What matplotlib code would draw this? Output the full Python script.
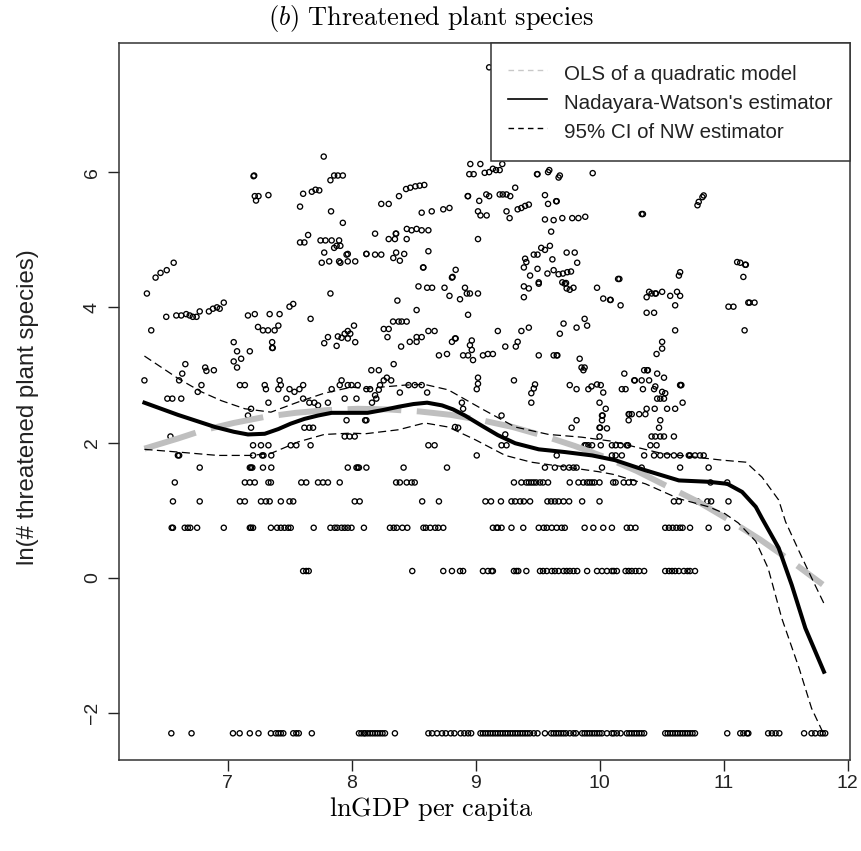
import matplotlib
matplotlib.use("Agg")
import matplotlib.pyplot as plt
from matplotlib.lines import Line2D
import numpy as np

plt.rcParams["font.family"] = ["Liberation Sans", "DejaVu Sans"]
plt.rcParams["mathtext.fontset"] = "cm"

# --- data ----------------------------------------------------------------
# horizontal bands of countries (y = ln(count + 0.1)), x = lnGDP per capita
band_y = [-2.30, 0.10, 0.74, 1.13, 1.41, 1.63, 1.81, 1.96, 2.09]
band_x = [
    [6.547, 6.71, 7.044, 7.098, 7.18, 7.25, 7.35, 7.39, 7.41, 7.43, 7.45, 7.53, 7.555, 7.575, 7.68,
     8.06, 8.08, 8.10, 8.11, 8.13, 8.15, 8.17, 8.19, 8.21, 8.23, 8.25, 8.27, 8.35,
     8.62, 8.65, 8.69, 8.73, 8.76, 8.80, 8.83, 8.88, 8.91, 8.94, 8.965,
     9.04, 9.06, 9.08, 9.10, 9.12, 9.14, 9.16, 9.18, 9.20, 9.22, 9.24, 9.26, 9.28, 9.30, 9.32,
     9.34, 9.36, 9.38, 9.40, 9.42, 9.44, 9.47, 9.50, 9.56, 9.61, 9.63, 9.65, 9.67, 9.69, 9.71,
     9.73, 9.76, 9.79, 9.81, 9.86, 9.88, 9.90, 9.92, 9.94, 9.96, 9.98, 10.00, 10.02, 10.06, 10.10,
     10.115, 10.14, 10.17, 10.22, 10.24, 10.26, 10.28, 10.30, 10.32, 10.34, 10.36,
     10.53, 10.55, 10.57, 10.59, 10.61, 10.63, 10.65, 10.67, 10.69, 10.71, 10.73, 10.75, 10.77,
     11.03, 11.135, 11.16, 11.19, 11.20, 11.36, 11.39, 11.42, 11.45, 11.65, 11.71, 11.74, 11.78,
     11.80, 11.82],
    [7.61, 7.635, 7.655, 8.49, 8.74, 8.81, 8.875, 8.90, 9.06, 9.10, 9.13, 9.14, 9.31, 9.33, 9.345,
     9.41, 9.52, 9.545, 9.575, 9.615, 9.64, 9.67, 9.71, 9.735, 9.76, 9.79, 9.82, 9.90, 9.98,
     10.02, 10.06, 10.10, 10.115, 10.14, 10.21, 10.235, 10.26, 10.29, 10.32, 10.36, 10.53, 10.56,
     10.585, 10.61, 10.64, 10.68, 10.71, 10.73, 10.77],
    [6.55, 6.56, 6.655, 6.68, 6.70, 6.755, 6.97, 7.18, 7.19, 7.206, 7.35, 7.40, 7.43, 7.46, 7.49,
     7.51, 7.695, 7.83, 7.865, 7.885, 7.92, 7.945, 7.97, 8.00, 8.10, 8.31, 8.34, 8.365, 8.41,
     8.45, 8.58, 8.60, 8.635, 8.675, 8.70, 8.74, 9.14, 9.17, 9.18, 9.21, 9.29, 9.385, 9.51,
     9.55, 9.575, 9.615, 9.655, 9.695, 9.72, 9.88, 9.95, 10.03, 10.10, 10.22, 10.25, 10.29,
     10.53, 10.56, 10.59, 10.62, 10.65, 10.67, 10.73, 10.88, 11.03],
    [6.56, 6.776, 7.10, 7.14, 7.27, 7.31, 7.34, 7.43, 7.50, 7.53, 8.026, 8.066, 8.57, 8.705,
     9.08, 9.125, 9.205, 9.29, 9.32, 9.36, 9.39, 9.44, 9.58, 9.61, 9.64, 9.67, 9.71, 9.755,
     9.86, 10.00, 10.60, 10.64, 10.79, 10.87, 10.90, 11.04],
    [6.575, 7.14, 7.18, 7.22, 7.33, 7.35, 7.595, 7.635, 7.73, 7.77, 7.81, 7.905, 8.36, 8.39,
     8.445, 8.485, 8.51, 9.31, 9.37, 9.41, 9.43, 9.45, 9.47, 9.49, 9.52, 9.545, 9.585, 9.76,
     9.83, 9.87, 9.90, 9.92, 9.94, 9.96, 10.00, 10.11, 10.13, 10.195, 10.235, 10.275, 10.895,
     11.03],
    [6.776, 7.18, 7.19, 7.20, 7.286, 7.353, 7.97, 8.04, 8.05, 8.06, 8.12, 8.42, 8.77, 9.56, 9.64,
     9.71, 9.755, 9.79, 9.815, 10.02, 10.34, 10.65, 10.88],
    [6.60, 6.61, 7.206, 7.28, 7.29, 7.353, 9.01, 9.655, 10.10, 10.13, 10.18, 10.36, 10.44,
     10.49, 10.545, 10.60, 10.65, 10.72, 10.73, 10.77, 10.81, 10.84],
    [7.206, 7.27, 7.33, 7.51, 7.555, 7.67, 8.62, 8.67, 9.21, 9.25, 9.88, 9.89, 9.91, 9.94,
     10.01, 10.10, 10.13, 10.17, 10.22, 10.23, 10.41, 10.46],
    [6.54, 7.945, 7.985, 8.026, 10.00, 10.42, 10.45, 10.49, 10.52, 10.60],
]

# remaining countries
other_x = [
    7.776, 7.21, 7.215, 7.22, 7.25, 7.23, 7.33, 7.585, 7.61, 7.68, 7.71, 7.74, 7.83, 7.86, 7.89,
    7.93, 7.835, 7.93, 7.65, 7.585, 7.62, 7.75, 7.79, 7.84, 7.90, 7.86, 7.88, 7.91, 7.78, 7.96,
    7.97, 7.76, 7.82, 7.90, 7.91, 7.97, 8.03, 8.12, 6.566, 6.51, 6.46, 6.42,
    8.958, 9.039, 8.95, 8.985, 9.074, 9.11, 9.14, 9.165, 9.195, 9.216, 9.496, 9.50, 9.585, 9.595,
    9.67, 9.68, 9.945, 8.587, 8.55, 8.515, 8.474, 8.44, 8.383, 8.24, 8.30, 8.937, 8.94, 9.03,
    9.087, 9.11, 9.195, 9.22, 9.25, 9.28, 9.32, 9.56, 9.585, 9.65, 9.655, 9.34, 9.37, 9.40, 9.43,
    9.02, 9.04, 9.09, 9.25, 9.275, 9.56, 9.63, 9.70, 9.78, 9.83, 9.885, 9.61, 8.566, 8.647, 8.74,
    8.79, 8.19, 8.357, 8.36, 8.446, 8.485, 8.525, 8.566, 8.62, 8.30, 8.35, 8.445, 9.02, 8.12, 8.19,
    8.24, 8.36, 8.425, 8.337, 8.39, 8.62, 8.577, 8.58, 8.84, 8.81, 8.815, 9.40, 9.41, 9.39, 9.44,
    9.47, 9.50, 9.50, 9.53, 9.56, 9.60, 9.62, 9.58, 9.63, 9.67, 9.705, 9.74, 9.77, 9.735, 9.80,
    9.82, 9.51, 9.70, 9.73, 9.11,
    10.34, 10.35, 10.79, 10.80, 10.83, 10.84, 11.11, 11.135, 11.175, 11.18, 11.16, 10.65, 10.64,
    10.15, 10.16,
    6.35, 7.83, 6.506, 6.587, 6.627, 6.667, 6.695, 6.72, 6.75, 6.776, 6.85, 6.883, 6.915, 6.937,
    6.97, 6.385, 7.165, 7.22, 7.34, 7.42, 7.50, 7.53, 7.67, 7.246, 7.286, 7.327, 7.38, 7.41, 7.36,
    7.36, 7.365, 7.05, 7.077, 7.11, 7.05, 7.077, 7.18, 7.81, 7.78, 7.88, 7.89, 7.92, 7.945, 7.97,
    7.99, 8.02, 8.03, 7.97, 6.33, 6.61, 6.635, 6.66, 6.76, 6.82, 6.83, 6.89, 6.79, 6.515, 6.555,
    6.627, 7.10, 7.14, 7.30, 7.31, 7.41, 7.42, 7.43, 7.50, 7.54, 7.58, 7.61, 7.475, 7.61, 7.66,
    7.33, 7.70, 7.73, 7.81, 7.84, 7.92, 7.905, 7.97, 8.00, 8.05, 8.12, 7.945, 8.04, 7.19, 7.165,
    7.96, 8.11, 7.19, 7.62, 7.66, 7.69,
    8.54, 8.61, 8.65, 8.75, 8.915, 8.93, 8.955, 9.02, 8.79, 8.875, 8.37, 8.525, 9.39, 9.43, 9.39,
    9.51, 9.72, 9.735, 9.76, 9.79, 9.98, 10.03, 10.085, 10.09, 8.335, 8.38, 8.405, 8.445, 8.26,
    8.30, 8.29, 8.62, 8.67, 8.40, 8.47, 8.525, 8.525, 8.566, 8.34, 8.16, 8.22, 8.705, 8.77, 8.835,
    8.84, 8.81, 8.94, 8.97, 8.955, 8.97, 8.94, 8.90, 8.98, 9.06, 9.10, 9.14, 9.18, 9.24, 9.325,
    9.34, 9.37, 9.43, 9.51, 9.63, 9.655, 9.66, 9.68, 9.71, 9.815, 9.88, 9.90, 9.84, 9.855, 9.88,
    9.87, 9.02, 9.02, 9.01, 9.31, 9.48, 9.47, 9.45, 9.45, 9.76, 9.815, 9.91, 9.935, 9.98, 10.01,
    10.03, 10.00, 10.02, 10.025, 10.05, 10.00, 10.005, 10.02, 10.06, 9.815, 9.775, 8.15, 8.19,
    8.22, 8.23, 8.26, 8.285, 8.32, 8.20, 8.165, 8.39, 8.46, 8.51, 8.566, 8.61, 8.12, 8.89, 8.90,
    8.835, 8.86, 9.21, 9.24,
    10.40, 10.42, 10.45, 10.455, 10.505, 10.57, 10.625, 10.65, 10.38, 10.17, 10.38, 10.44, 10.61,
    11.04, 11.08, 11.20, 11.21, 11.25, 10.61, 11.17, 10.505, 10.505, 10.46, 10.20, 10.36, 10.385,
    10.39, 10.465, 10.52, 10.28, 10.285, 10.34, 10.40, 10.45, 10.44, 10.21, 10.18, 10.35, 10.505,
    10.53, 10.49, 10.465, 10.52, 10.65, 10.655, 10.66, 10.67, 10.38, 10.445, 10.545, 10.61,
    10.235, 10.24, 10.26, 10.32, 10.37, 10.235, 10.49, 10.48,
]
other_y = [
    6.23, 5.94, 5.95, 5.645, 5.645, 5.58, 5.66, 5.49, 5.68, 5.71, 5.74, 5.73, 5.88, 5.95, 5.95,
    5.95, 5.42, 5.25, 5.07, 4.96, 4.96, 4.99, 4.99, 4.99, 4.99, 4.88, 4.91, 4.91, 4.81, 4.78,
    4.79, 4.66, 4.68, 4.68, 4.66, 4.68, 4.68, 4.79, 4.66, 4.55, 4.51, 4.44,
    6.12, 6.12, 5.97, 5.97, 5.99, 6.00, 6.05, 6.03, 6.03, 6.12, 5.97, 5.97, 6.00, 6.03,
    5.92, 5.95, 5.985, 5.81, 5.80, 5.79, 5.77, 5.75, 5.645, 5.53, 5.53, 5.645, 5.645, 5.575,
    5.67, 5.645, 5.67, 5.67, 5.67, 5.645, 5.77, 5.66, 5.53, 5.57, 5.57, 5.45, 5.47, 5.50, 5.52,
    5.42, 5.36, 5.36, 5.42, 5.32, 5.30, 5.29, 5.32, 5.32, 5.32, 5.34, 5.12, 5.40, 5.42, 5.45,
    5.47, 5.09, 5.09, 5.09, 5.16, 5.14, 5.16, 5.14, 5.14, 5.01, 5.01, 5.01, 5.01, 4.79, 4.78,
    4.78, 4.81, 4.79, 4.73, 4.69, 4.83, 4.59, 4.59, 4.555, 4.44, 4.45, 4.72, 4.67, 4.59, 4.47,
    4.78, 4.78, 4.57, 4.88, 4.85, 4.91, 4.71, 4.50, 4.55, 4.49, 4.50, 4.52, 4.53, 4.81, 4.81,
    4.66, 4.37, 4.37, 4.36, 7.55,
    5.38, 5.38, 5.51, 5.56, 5.63, 5.655, 4.67, 4.66, 4.63, 4.63, 4.45, 4.52, 4.47,
    4.42, 4.42,
    4.205, 4.205, 3.86, 3.88, 3.88, 3.90, 3.88, 3.86, 3.86, 3.94, 3.94, 3.98, 4.00, 3.98,
    4.07, 3.66, 3.88, 3.90, 3.90, 3.90, 4.01, 4.05, 3.83, 3.71, 3.66, 3.66, 3.66, 3.73, 3.485,
    3.40, 3.40, 3.485, 3.35, 3.24, 3.20, 3.11, 3.35, 3.56, 3.47, 3.43, 3.57, 3.55, 3.61, 3.65,
    3.61, 3.73, 3.485, 3.54, 2.92, 2.92, 3.02, 3.16, 2.75, 3.11, 3.06, 3.07, 2.85, 2.65, 2.65,
    2.65, 2.85, 2.85, 2.85, 2.79, 2.79, 2.92, 2.85, 2.79, 2.75, 2.79, 2.85, 2.65, 2.65, 2.59,
    2.59, 2.59, 2.55, 2.59, 2.79, 2.92, 2.85, 2.85, 2.85, 2.85, 2.79, 2.65, 2.65, 2.50, 2.40,
    2.33, 2.33, 2.22, 2.22, 2.22, 2.22,
    4.31, 4.29, 4.29, 4.29, 4.29, 4.205, 4.205, 4.205, 4.17, 4.12, 4.10, 3.96, 4.31, 4.28, 4.15,
    4.35, 4.35, 4.28, 4.26, 4.29, 4.29, 4.13, 4.11, 4.11, 3.79, 3.79, 3.79, 3.79, 3.68,
    3.68, 3.56, 3.65, 3.65, 3.42, 3.49, 3.49, 3.56, 3.56, 3.16, 3.07, 3.07, 3.29, 3.31, 3.54,
    3.54, 3.49, 3.89, 3.51, 3.44, 3.37, 3.29, 3.29, 3.22, 3.29, 3.31, 3.31, 3.65, 3.42, 3.42,
    3.49, 3.65, 3.70, 3.29, 3.29, 3.29, 3.29, 3.61, 3.76, 3.70, 3.83, 3.73, 3.24, 3.11, 3.11,
    3.07, 2.96, 2.87, 2.79, 2.92, 2.86, 2.80, 2.73, 2.59, 2.85, 2.79, 2.79, 2.83, 2.86, 2.85,
    2.74, 2.59, 2.40, 2.40, 2.50, 2.22, 2.22, 2.33, 2.21, 2.33, 2.22, 2.79, 2.70,
    2.78, 2.85, 2.92, 2.96, 2.92, 2.65, 2.59, 2.74, 2.85, 2.85, 2.85, 2.74, 2.33, 2.59, 2.50,
    2.23, 2.22, 2.40, 2.12,
    4.23, 4.205, 4.205, 4.205, 4.23, 4.17, 4.23, 4.17, 4.15, 4.03, 3.92, 3.92, 4.03,
    4.01, 4.01, 4.07, 4.07, 4.07, 3.66, 3.66, 3.49, 3.39, 3.31, 3.02, 3.07, 3.07,
    3.07, 3.02, 2.96, 2.92, 2.92, 2.92, 2.92, 2.83, 2.79, 2.79, 2.79, 2.79, 2.75,
    2.73, 2.65, 2.65, 2.65, 2.85, 2.85, 2.85, 2.59, 2.50, 2.50, 2.50, 2.50,
    2.42, 2.42, 2.42, 2.42, 2.42, 2.33, 2.33, 2.22,
]

# fitted curves
ols_x = [6.33, 6.6, 6.8, 7.05, 7.3, 7.55, 7.8, 8.05, 8.3, 8.55, 8.8, 9.05, 9.3, 9.55, 9.8,
         10.05, 10.3, 10.55, 10.8, 11.05, 11.3, 11.55, 11.8]
ols_y = [1.91, 2.06, 2.18, 2.29, 2.38, 2.44, 2.48, 2.50, 2.49, 2.46, 2.41, 2.33, 2.23, 2.10,
         1.95, 1.78, 1.58, 1.35, 1.12, 0.85, 0.56, 0.24, -0.10]

nw_x = [6.33, 6.60, 6.90, 7.05, 7.165, 7.30, 7.41, 7.51, 7.62, 7.73, 7.84, 8.00, 8.13, 8.25,
        8.38, 8.50, 8.61, 8.73, 8.82, 8.915, 9.05, 9.18, 9.32, 9.51, 9.72, 9.94, 10.125, 10.37,
        10.64, 10.88, 11.03, 11.15, 11.26, 11.31, 11.445, 11.55, 11.66, 11.81]
nw_y = [2.59, 2.41, 2.23, 2.16, 2.12, 2.13, 2.20, 2.28, 2.35, 2.40, 2.44, 2.44, 2.44, 2.48,
        2.53, 2.57, 2.59, 2.55, 2.49, 2.40, 2.25, 2.11, 1.99, 1.90, 1.86, 1.81, 1.74, 1.59,
        1.44, 1.42, 1.39, 1.27, 1.05, 0.88, 0.44, -0.105, -0.745, -1.39]

ci_hi_x = [6.33, 6.60, 6.79, 6.95, 7.14, 7.35, 7.57, 7.78, 8.00, 8.11, 8.43, 8.59, 8.78, 9.05,
           9.32, 9.59, 9.855, 10.10, 10.50, 10.99, 11.18, 11.31, 11.445, 11.50, 11.61, 11.71,
           11.81]
ci_hi_y = [3.28, 2.95, 2.75, 2.62, 2.50, 2.45, 2.60, 2.73, 2.82, 2.80, 2.85, 2.86, 2.78, 2.50,
           2.23, 2.12, 2.08, 2.02, 1.84, 1.74, 1.71, 1.49, 1.15, 0.83, 0.39, 0.0, -0.38]

ci_lo_x = [6.33, 6.60, 6.92, 7.19, 7.35, 7.57, 7.78, 8.00, 8.11, 8.38, 8.59, 8.78, 9.00, 9.24,
           9.45, 9.72, 9.99, 10.11, 10.37, 10.64, 10.88, 11.01, 11.12, 11.26, 11.36, 11.47,
           11.61, 11.71, 11.81]
ci_lo_y = [1.90, 1.86, 1.81, 1.81, 1.84, 2.01, 2.12, 2.14, 2.13, 2.19, 2.29, 2.23, 2.04, 1.81,
           1.71, 1.64, 1.57, 1.53, 1.39, 1.17, 1.05, 0.95, 0.81, 0.54, 0.14, -0.60, -1.34,
           -1.93, -2.32]

legend_labels = ["OLS of a quadratic model", "Nadayara-Watson's estimator",
                 "95% CI of NW estimator"]
x_ticks = [7, 8, 9, 10, 11, 12]
y_ticks = [-2, 0, 2, 4, 6]

# --- figure ---------------------------------------------------------------
W, H = 862, 851
fig = plt.figure(figsize=(W / 100, H / 100), dpi=100)
ax = fig.add_axes([119 / W, (H - 760) / H, (850 - 119) / W, (760 - 43) / H])

pts_x = np.concatenate([np.array(xs) for xs in band_x] + [np.array(other_x)])
pts_y = np.concatenate([np.full(len(xs), yv) for yv, xs in zip(band_y, band_x)]
                       + [np.array(other_y)])
ax.scatter(pts_x, pts_y, s=14, facecolors="none", edgecolors="black", linewidths=0.95,
           zorder=2)

ols_line, = ax.plot(ols_x, ols_y, color="#bfbfbf", lw=4.3, zorder=3,
                    solid_capstyle="butt")
ols_line.set_dashes([9, 2.6])
ax.plot(nw_x, nw_y, color="black", lw=2.9, zorder=4)
for cx, cy in [(ci_hi_x, ci_hi_y), (ci_lo_x, ci_lo_y)]:
    ln, = ax.plot(cx, cy, color="black", lw=0.9, zorder=5)
    ln.set_dashes([6.5, 3.5])

ax.set_xlim(6.125, 12.02)
ax.set_ylim(-2.695, 7.91)
ax.set_xticks(x_ticks)
ax.set_yticks(y_ticks)
ax.tick_params(direction="out", length=8, width=1, labelsize=14, pad=2.5, colors="#222222")
ax.tick_params(axis="y", pad=5)
for lab in ax.get_yticklabels():
    lab.set_rotation(90)
    lab.set_va("center")
for sp in ax.spines.values():
    sp.set_linewidth(1.1)
    sp.set_color("#333333")

ax.set_ylabel("ln(# threatened plant species)", fontsize=17.3, color="#222222")
ax.yaxis.set_label_coords(-0.11, 0.492)

fig.text(0.5, 1 - 18 / H, r"$(b)\ \mathrm{Threatened\ plant\ species}$", ha="center",
         va="center", fontsize=19)
fig.text(0.5, 1 - 809 / H, r"$\mathrm{lnGDP\ per\ capita}$", ha="center", va="center",
         fontsize=19)

handles = [
    Line2D([], [], color="#c8c8c8", lw=1.0, dashes=[4, 3]),
    Line2D([], [], color="black", lw=1.2),
    Line2D([], [], color="black", lw=1.0, dashes=[4, 3]),
]
leg = ax.legend(handles, legend_labels, loc="upper right", bbox_to_anchor=(1, 1),
                borderaxespad=0, fancybox=False, framealpha=1, edgecolor="#333333",
                fontsize=14.8, handlelength=1.88, handletextpad=0.82, borderpad=0.85,
                labelspacing=0.15, handleheight=1.55)
leg.get_frame().set_linewidth(1.1)
for t in leg.get_texts():
    t.set_color("#222222")

fig.savefig("out.png", dpi=100)
